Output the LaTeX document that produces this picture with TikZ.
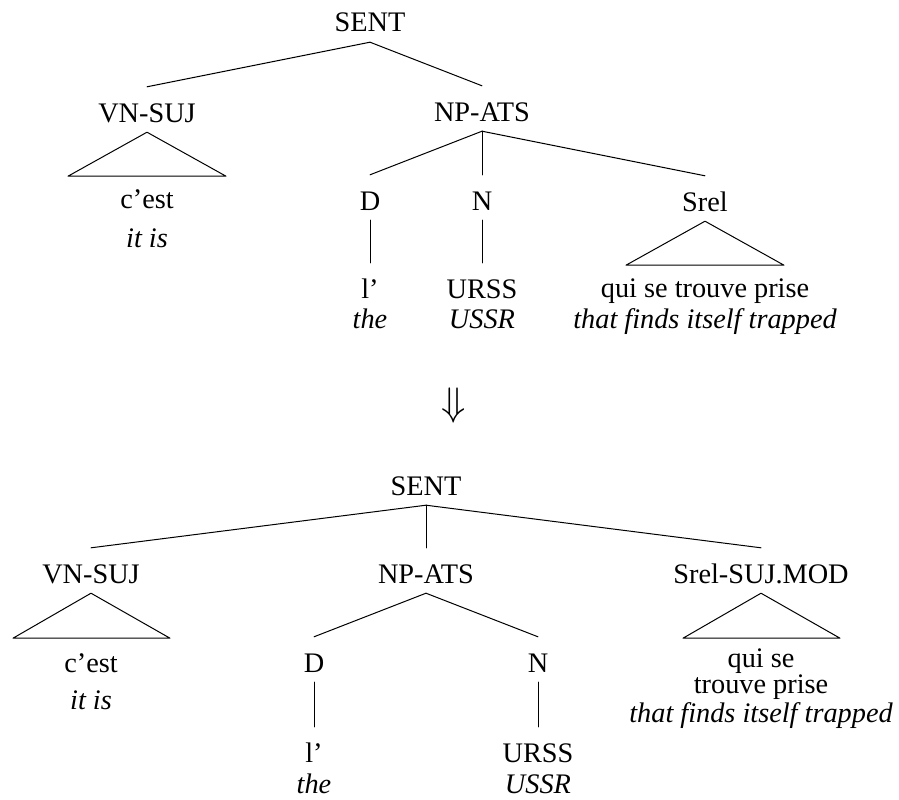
\documentclass[tikz,border=0pt]{standalone}
\usepackage{fontspec}
\setmainfont{Liberation Serif}
\begin{document}
\begin{tikzpicture}[x=1pt,y=-1pt,
  lbl/.style={anchor=base, inner xsep=2pt, inner ysep=5pt,
    text height=30pt, text depth=5pt,
    font=\fontsize{28.3pt}{34pt}\selectfont},
  gloss/.style={lbl, font=\fontsize{28.3pt}{34pt}\selectfont\itshape},
  lastgloss/.style={gloss, inner ysep=0pt, text height=20pt, text depth=0pt},
  branch/.style={draw=black, line width=1pt, line cap=round, line join=round}]
\useasboundingbox[fill=white] (0,0) rectangle (899,800);

% ---------- original analysis ----------
\node[lbl] (s1)  at (370,32)  {SENT};
\node[lbl] (vn1) at (147,122) {VN-SUJ};
\node[lbl] (np1) at (482,121) {NP-ATS};
\node[lbl] (d1)  at (370,210) {D};
\node[lbl] (n1)  at (482,210) {N};
\node[lbl] (sr1) at (705,211) {Srel};

\node[lbl]   (c1)  at (147,208) {c’est};
\node[gloss] (c1e) at (147,247) {it is};
\node[lbl]   (l1)  at (370,298) {l’};
\node[gloss] (l1e) at (370,328) {the};
\node[lbl]   (u1)  at (482,298) {URSS};
\node[gloss] (u1e) at (482,328) {USSR};
\node[lbl]   (q1)  at (705,297) {qui se trouve prise};
\node[gloss] (q1e) at (705,328) {that finds itself trapped};

\draw[branch] (s1.south) -- (vn1.north);
\draw[branch] (s1.south) -- (np1.north);
\draw[branch] (np1.south) -- (d1.north);
\draw[branch] (np1.south) -- (n1.north);
\draw[branch] (np1.south) -- (sr1.north);
\draw[branch] (d1.south) -- (l1.north);
\draw[branch] (n1.south) -- (u1.north);
\draw[branch] (vn1.south) -- ++(-79,44) -- ++(158,0) -- cycle;
\draw[branch] (sr1.south) -- ++(-79,44) -- ++(158,0) -- cycle;

% ---------- transformation ----------
\node[font=\fontsize{24pt}{26pt}\selectfont] (arrow) at (454,406)
  {\scalebox{1.6}{$\Downarrow$}};

% ---------- transformed analysis ----------
\node[lbl] (s2)  at (426,495) {SENT};
\node[lbl] (vn2) at (91,583)  {VN-SUJ};
\node[lbl] (np2) at (426,583) {NP-ATS};
\node[lbl] (sr2) at (761,583) {Srel-SUJ.MOD};
\node[lbl] (d2)  at (314,672) {D};
\node[lbl] (n2)  at (538,672) {N};

\node[lbl]   (c2)  at (91,672)  {c’est};
\node[gloss] (c2e) at (91,709)  {it is};
\node[lbl]   (l2)  at (314,762) {l’};
\node[lastgloss] (l2e) at (314,793) {the};
\node[lbl]   (u2)  at (538,762) {URSS};
\node[lastgloss] (u2e) at (538,793) {USSR};
\node[lbl]   (q2)  at (761,667) {qui se};
\node[lbl]   (q2b) at (761,693) {trouve prise};
\node[gloss] (q2e) at (761,722) {that finds itself trapped};

\draw[branch] (s2.south) -- (vn2.north);
\draw[branch] (s2.south) -- (np2.north);
\draw[branch] (s2.south) -- (sr2.north);
\draw[branch] (np2.south) -- (d2.north);
\draw[branch] (np2.south) -- (n2.north);
\draw[branch] (d2.south) -- (l2.north);
\draw[branch] (n2.south) -- (u2.north);
\draw[branch] (vn2.south) -- ++(-78,45) -- ++(157,0) -- cycle;
\draw[branch] (sr2.south) -- ++(-78,45) -- ++(157,0) -- cycle;
\end{tikzpicture}
\end{document}
